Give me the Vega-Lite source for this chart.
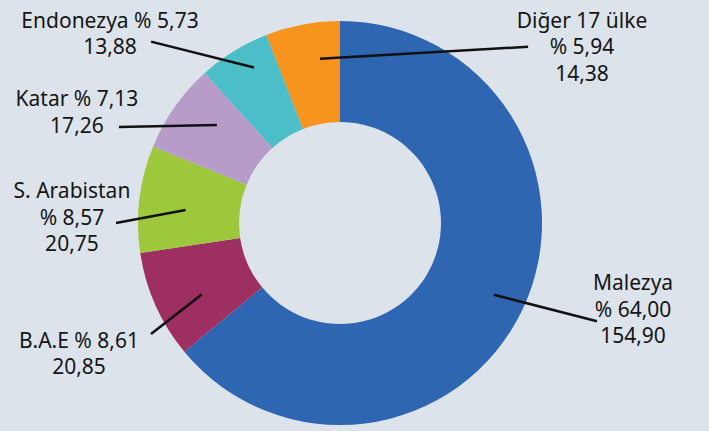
{
  "$schema": "https://vega.github.io/schema/vega-lite/v6.json",
  "width": 709,
  "height": 431,
  "autosize": {"type": "fit", "contains": "padding"},
  "padding": {"left": 0, "top": 11, "right": 29, "bottom": 0},
  "background": "#dce3ea",
  "config": {"view": {"stroke": null}},
  "data": {
    "values": [
      {"order": 0, "name": "Malezya", "pct": 64.00, "value": 154.90},
      {"order": 1, "name": "B.A.E", "pct": 8.61, "value": 20.85},
      {"order": 2, "name": "S. Arabistan", "pct": 8.57, "value": 20.75},
      {"order": 3, "name": "Katar", "pct": 7.13, "value": 17.26},
      {"order": 4, "name": "Endonezya", "pct": 5.73, "value": 13.88},
      {"order": 5, "name": "Diğer 17 ülke", "pct": 5.94, "value": 14.38}
    ]
  },
  "transform": [
    {"joinaggregate": [{"op": "sum", "field": "value", "as": "total"}]},
    {"window": [{"op": "sum", "field": "value", "as": "cum"}], "sort": [{"field": "order"}], "frame": [null, 0]},
    {"calculate": "2*PI*(datum.cum - datum.value/2)/datum.total", "as": "a"},
    {"calculate": "datum.a + [0,-3.5,-2,3.7,3,3.8][datum.order]*PI/180", "as": "sa"},
    {"calculate": "[170,156,155,158,179,167][datum.order]", "as": "rs"},
    {"calculate": "datum.rs*sin(datum.sa)", "as": "sx"},
    {"calculate": "datum.rs*cos(datum.sa)", "as": "sy"},
    {"calculate": "datum.a + [-4.11,-6.57,-6.86,-11.43,-14.19,57.3][datum.order]*PI/180", "as": "ea"},
    {"calculate": "[275.4,219.7,224,241.4,263.1,258.9][datum.order]", "as": "re"},
    {"calculate": "datum.re*sin(datum.ea)", "as": "ex"},
    {"calculate": "datum.re*cos(datum.ea)", "as": "ey"},
    {"calculate": "datum.a + [-12.14,-1.69,-1.53,-10.97,-17.71,61.55][datum.order]*PI/180", "as": "la"},
    {"calculate": "[300.8,289.8,269.2,288.3,302.8,312.0][datum.order]", "as": "rl"},
    {"calculate": "datum.rl*sin(datum.la)", "as": "lx"},
    {"calculate": "datum.rl*cos(datum.la)", "as": "ly"},
    {"calculate": "replace(format(datum.pct,'.2f'),'.',',')", "as": "pctTxt"},
    {"calculate": "replace(format(datum.value,'.2f'),'.',',')", "as": "valTxt"},
    {"calculate": "[1,0,1,0,0,1][datum.order] ? datum.name + '\\n% ' + datum.pctTxt + '\\n' + datum.valTxt : datum.name + ' % ' + datum.pctTxt + '\\n' + datum.valTxt", "as": "label"}
  ],
  "layer": [
    {
      "mark": {"type": "arc", "outerRadius": 202, "innerRadius": 101},
      "encoding": {
        "theta": {"field": "value", "type": "quantitative", "stack": true},
        "order": {"field": "order", "type": "quantitative"},
        "color": {
          "field": "name",
          "type": "nominal",
          "scale": {
            "domain": ["Malezya", "B.A.E", "S. Arabistan", "Katar", "Endonezya", "Diğer 17 ülke"],
            "range": ["#2e66b1", "#9e2f61", "#9dc83c", "#b79cc9", "#4bbec7", "#f7941e"]
          },
          "legend": null
        }
      }
    },
    {
      "mark": {"type": "rule", "strokeWidth": 2.5, "color": "#111111"},
      "encoding": {
        "x": {"field": "sx", "type": "quantitative", "scale": {"domain": [-340, 340], "nice": false, "zero": false}, "axis": null},
        "y": {"field": "sy", "type": "quantitative", "scale": {"domain": [-210, 210], "nice": false, "zero": false}, "axis": null},
        "x2": {"field": "ex"},
        "y2": {"field": "ey"}
      }
    },
    {
      "mark": {"type": "text", "align": "center", "baseline": "alphabetic", "font": "Noto Sans", "fontSize": 21, "lineHeight": 26.5, "lineBreak": "\n", "color": "#151515"},
      "encoding": {
        "x": {"field": "lx", "type": "quantitative", "scale": {"domain": [-340, 340], "nice": false, "zero": false}, "axis": null},
        "y": {"field": "ly", "type": "quantitative", "scale": {"domain": [-210, 210], "nice": false, "zero": false}, "axis": null},
        "text": {"field": "label", "type": "nominal"}
      }
    }
  ]
}
